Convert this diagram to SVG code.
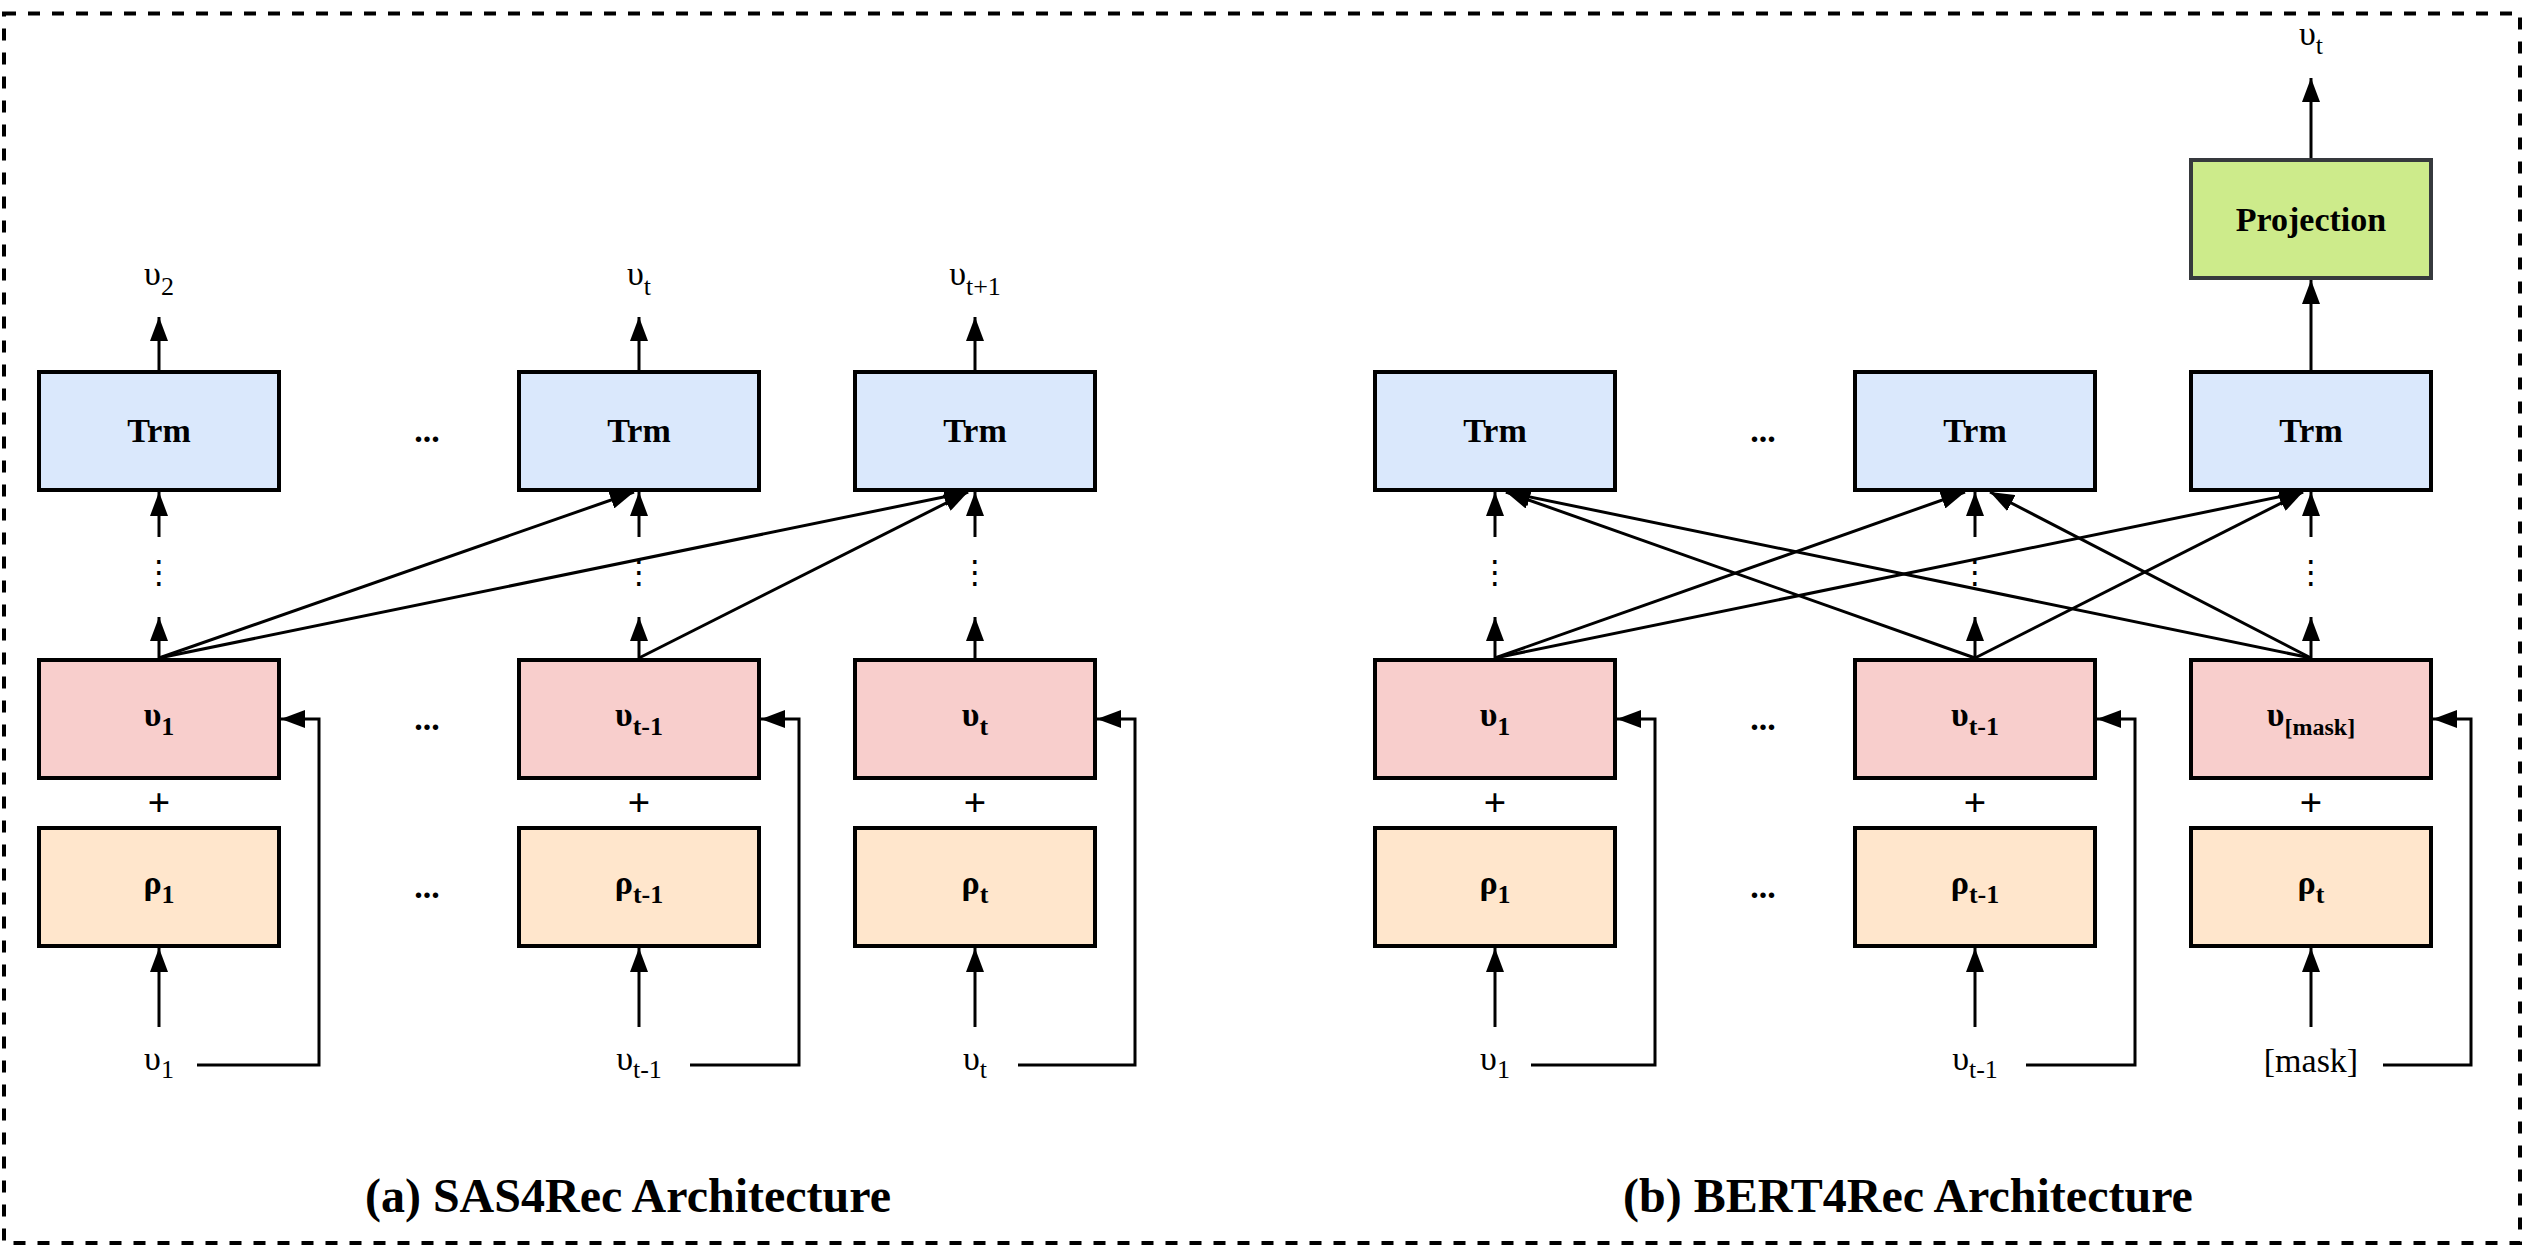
<svg xmlns="http://www.w3.org/2000/svg" width="2522" height="1246" viewBox="0 0 2522 1246">
<style>
.box{stroke:#000;stroke-width:4}
.trm{fill:#dae8fc}
.emb{fill:#f8cecc}
.pos{fill:#ffe6cc}
.proj{fill:#cdeb8b;stroke:#36393d}
.lbl{font-family:"Liberation Serif","Times New Roman",serif;font-size:34px;text-anchor:middle;fill:#000}
.b{font-weight:bold}
.sub{font-size:26px}
.plus{font-size:40px;font-weight:bold}
.title{font-size:48px;font-weight:bold}
.vd{font-family:"DejaVu Sans",sans-serif;font-size:32px;text-anchor:middle;fill:#000}
.edge{fill:none;stroke:#000;stroke-width:3}
.frame{fill:none;stroke:#000;stroke-width:4;stroke-dasharray:12 12}
</style>
<defs>
<marker id="ah" markerUnits="userSpaceOnUse" markerWidth="26" markerHeight="18" refX="24" refY="9" orient="auto" viewBox="0 0 26 18"><path d="M0,0 L24,9 L0,18 z" fill="#000"/></marker>
</defs>
<rect class="frame" x="4" y="13.5" width="2516" height="1229.5"/>

<!-- SAS4Rec nodes -->
<g id="sas-trm-1"><rect class="box trm" x="39" y="372" width="240" height="118"/><text class="lbl b" x="159" y="442">Trm</text></g>
<g id="sas-trm-2"><rect class="box trm" x="519" y="372" width="240" height="118"/><text class="lbl b" x="639" y="442">Trm</text></g>
<g id="sas-trm-3"><rect class="box trm" x="855" y="372" width="240" height="118"/><text class="lbl b" x="975" y="442">Trm</text></g>
<g id="sas-emb-1"><rect class="box emb" x="39" y="660" width="240" height="118"/><text class="lbl b" x="159" y="726">υ<tspan class="sub" dy="9">1</tspan></text></g>
<g id="sas-emb-2"><rect class="box emb" x="519" y="660" width="240" height="118"/><text class="lbl b" x="639" y="726">υ<tspan class="sub" dy="9">t-1</tspan></text></g>
<g id="sas-emb-3"><rect class="box emb" x="855" y="660" width="240" height="118"/><text class="lbl b" x="975" y="726">υ<tspan class="sub" dy="9">t</tspan></text></g>
<g id="sas-pos-1"><rect class="box pos" x="39" y="828" width="240" height="118"/><text class="lbl b" x="159" y="894">ρ<tspan class="sub" dy="9">1</tspan></text></g>
<g id="sas-pos-2"><rect class="box pos" x="519" y="828" width="240" height="118"/><text class="lbl b" x="639" y="894">ρ<tspan class="sub" dy="9">t-1</tspan></text></g>
<g id="sas-pos-3"><rect class="box pos" x="855" y="828" width="240" height="118"/><text class="lbl b" x="975" y="894">ρ<tspan class="sub" dy="9">t</tspan></text></g>
<g id="sas-out"><text class="lbl" x="159" y="285">υ<tspan class="sub" dy="10">2</tspan></text><text class="lbl" x="639" y="285">υ<tspan class="sub" dy="10">t</tspan></text><text class="lbl" x="975" y="285">υ<tspan class="sub" dy="10">t+1</tspan></text></g>
<g id="sas-in"><text class="lbl" x="159" y="1070">υ<tspan class="sub" dy="8">1</tspan></text><text class="lbl" x="639" y="1070">υ<tspan class="sub" dy="8">t-1</tspan></text><text class="lbl" x="975" y="1070">υ<tspan class="sub" dy="8">t</tspan></text></g>
<g id="sas-misc"><text class="lbl b" x="427" y="442">...</text><text class="lbl b" x="427" y="730">...</text><text class="lbl b" x="427" y="898">...</text>
<text class="lbl plus" x="159" y="816">+</text><text class="lbl plus" x="639" y="816">+</text><text class="lbl plus" x="975" y="816">+</text>
<text class="vd" x="159" y="583">⋮</text><text class="vd" x="639" y="583">⋮</text><text class="vd" x="975" y="583">⋮</text></g>
<g id="sas-title"><text class="lbl title" x="628" y="1212">(a) SAS4Rec Architecture</text></g>

<!-- BERT4Rec nodes -->
<g id="bert-proj"><rect class="box proj" x="2191" y="160" width="240" height="118"/><text class="lbl b" x="2311" y="231">Projection</text></g>
<g id="bert-trm-1"><rect class="box trm" x="1375" y="372" width="240" height="118"/><text class="lbl b" x="1495" y="442">Trm</text></g>
<g id="bert-trm-2"><rect class="box trm" x="1855" y="372" width="240" height="118"/><text class="lbl b" x="1975" y="442">Trm</text></g>
<g id="bert-trm-3"><rect class="box trm" x="2191" y="372" width="240" height="118"/><text class="lbl b" x="2311" y="442">Trm</text></g>
<g id="bert-emb-1"><rect class="box emb" x="1375" y="660" width="240" height="118"/><text class="lbl b" x="1495" y="726">υ<tspan class="sub" dy="9">1</tspan></text></g>
<g id="bert-emb-2"><rect class="box emb" x="1855" y="660" width="240" height="118"/><text class="lbl b" x="1975" y="726">υ<tspan class="sub" dy="9">t-1</tspan></text></g>
<g id="bert-emb-3"><rect class="box emb" x="2191" y="660" width="240" height="118"/><text class="lbl b" x="2311" y="726">υ<tspan class="sub" dy="9" style="font-size:24px">[mask]</tspan></text></g>
<g id="bert-pos-1"><rect class="box pos" x="1375" y="828" width="240" height="118"/><text class="lbl b" x="1495" y="894">ρ<tspan class="sub" dy="9">1</tspan></text></g>
<g id="bert-pos-2"><rect class="box pos" x="1855" y="828" width="240" height="118"/><text class="lbl b" x="1975" y="894">ρ<tspan class="sub" dy="9">t-1</tspan></text></g>
<g id="bert-pos-3"><rect class="box pos" x="2191" y="828" width="240" height="118"/><text class="lbl b" x="2311" y="894">ρ<tspan class="sub" dy="9">t</tspan></text></g>
<g id="bert-out"><text class="lbl" x="2311" y="45">υ<tspan class="sub" dy="9">t</tspan></text></g>
<g id="bert-in"><text class="lbl" x="1495" y="1070">υ<tspan class="sub" dy="8">1</tspan></text><text class="lbl" x="1975" y="1070">υ<tspan class="sub" dy="8">t-1</tspan></text><text class="lbl" x="2311" y="1072">[mask]</text></g>
<g id="bert-misc"><text class="lbl b" x="1763" y="442">...</text><text class="lbl b" x="1763" y="730">...</text><text class="lbl b" x="1763" y="898">...</text>
<text class="lbl plus" x="1495" y="816">+</text><text class="lbl plus" x="1975" y="816">+</text><text class="lbl plus" x="2311" y="816">+</text>
<text class="vd" x="1495" y="583">⋮</text><text class="vd" x="1975" y="583">⋮</text><text class="vd" x="2311" y="583">⋮</text></g>
<g id="bert-title"><text class="lbl title" x="1908" y="1212">(b) BERT4Rec Architecture</text></g>

<!-- connectors -->
<g id="connectors" class="edge" marker-end="url(#ah)">
<path d="M159,370 V317"/><path d="M639,370 V317"/><path d="M975,370 V317"/>
<path d="M159,537 V492"/><path d="M639,537 V492"/><path d="M975,537 V492"/>
<path d="M159,658 V617"/><path d="M639,658 V617"/><path d="M975,658 V617"/>
<path d="M159,1027 V948"/><path d="M639,1027 V948"/><path d="M975,1027 V948"/>
<path d="M159,658 L634,492"/><path d="M159,658 L968,492"/><path d="M639,658 L968,492"/>
<path d="M197,1065 H319 V719 H281"/><path d="M690,1065 H799 V719 H761"/><path d="M1018,1065 H1135 V719 H1097"/>

<path d="M2311,370 V280"/><path d="M2311,158 V78"/>
<path d="M1495,537 V492"/><path d="M1975,537 V492"/><path d="M2311,537 V492"/>
<path d="M1495,658 V617"/><path d="M1975,658 V617"/><path d="M2311,658 V617"/>
<path d="M1495,1027 V948"/><path d="M1975,1027 V948"/><path d="M2311,1027 V948"/>
<path d="M1495,658 L1965,492"/><path d="M1495,658 L2303,492"/>
<path d="M1975,658 L1506,492"/><path d="M1975,658 L2303,492"/>
<path d="M2311,658 L1506,492"/><path d="M2311,658 L1990,492"/>
<path d="M1531,1065 H1655 V719 H1617"/><path d="M2026,1065 H2135 V719 H2097"/><path d="M2383,1065 H2471 V719 H2433"/>
</g>
</svg>
